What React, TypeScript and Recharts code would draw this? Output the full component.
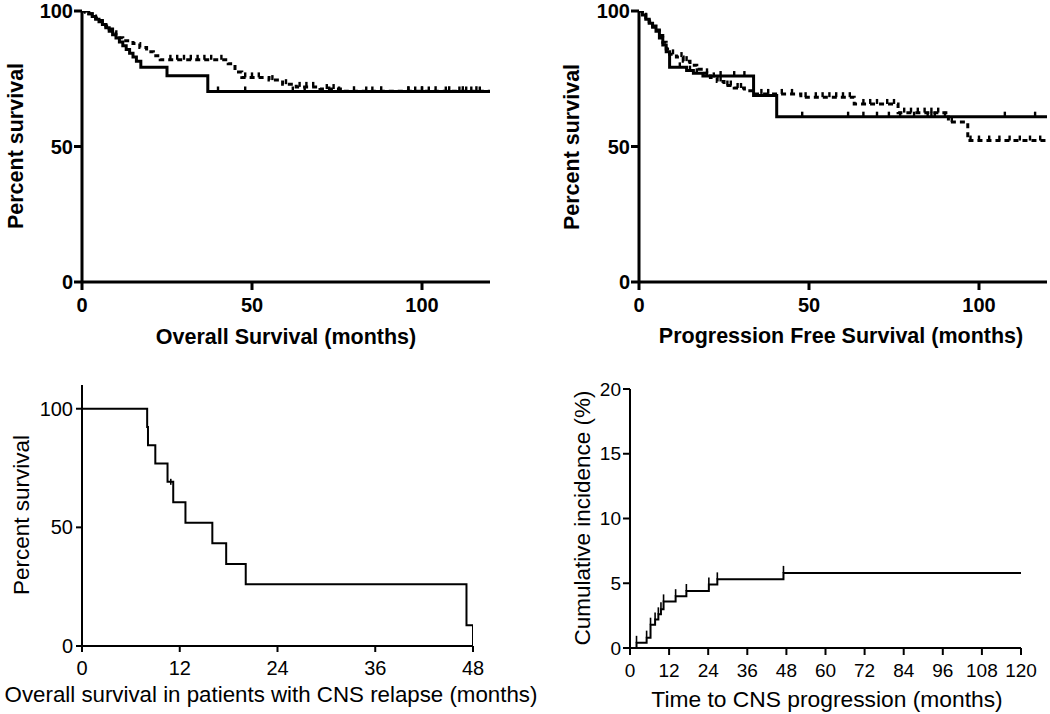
import React from "react";
import { LineChart, Line, XAxis, YAxis } from "recharts";

const FONT = "'Liberation Sans', Arial, Helvetica, sans-serif";

// Overall survival (top left): months at each step, survival after the step, censor times
const osSolidMonths = [0, 2, 3, 4, 5, 6, 7, 8, 9, 10, 11, 12, 13, 14, 15, 16, 17.3, 25, 37];
const osSolidSurv = [100, 99, 98, 97, 96, 95, 93.8, 92.5, 91.2, 90, 88.6, 87.2, 85.8, 84.4, 83, 81.5, 79.2, 76.1, 70.3];
const osSolidCensor = [40, 48, 62, 65.5, 72.7, 75.6, 83.6, 85.4, 96, 98, 100, 102, 107, 111, 113, 114.5, 117];

const osDashMonths = [0, 1, 2, 3, 4, 5, 6, 7, 8, 9, 10, 11, 12, 15, 17, 19, 21, 23, 43, 45, 47, 55, 59, 63, 70, 76];
const osDashSurv = [100, 99.5, 99, 98.2, 97.4, 96.5, 95.5, 94.5, 93.4, 92.3, 91.2, 90.1, 89, 88, 86.5, 85, 83.5, 82, 80.5, 77.5, 75.5, 74.5, 73, 72, 71.2, 70.4];
const osDashCensor = [26, 28, 30, 32, 34, 36, 38, 41, 48, 50, 52, 56, 60, 64, 66, 68, 72, 74, 80, 88, 96, 100, 104, 108, 112, 116];

// Progression free survival (top right)
const pfsSolidMonths = [0, 1, 2, 3, 4, 5, 6, 7, 8, 9, 14, 16, 18.8, 33.7, 40.5];
const pfsSolidSurv = [100, 98.5, 97, 95.5, 94, 92.5, 90, 87.5, 85, 79.2, 78, 77, 76, 68.8, 61];
const pfsSolidCensor = [12, 15, 17, 20, 24, 28, 31, 48, 61.5, 66, 70, 73.5, 76.8, 80.9, 84.9, 86, 87, 90, 107.6, 116.5];

const pfsDashMonths = [0, 1, 2, 3, 4, 5, 6, 7, 8, 9, 11, 13, 15, 17, 19, 21, 23, 25, 28, 31, 34, 47.6, 63.3, 76.2, 91, 96.7];
const pfsDashSurv = [100, 98.8, 97.5, 96, 94.5, 93, 91, 88.5, 86, 84, 83, 81.5, 80, 78.5, 77, 75.5, 74, 72.5, 71.6, 70.6, 69.4, 68.2, 65.7, 62.5, 59, 52.2];
const pfsDashCensor = [10, 12.5, 14, 20, 22, 24, 26, 27, 29, 30, 36, 38, 42, 45, 49, 52, 54, 56, 58, 60, 62, 66, 68, 70, 73, 75, 78, 80, 82, 84, 86, 88, 92, 97.5, 100, 103, 106, 109, 112, 115, 118];

// Overall survival after CNS relapse (bottom left)
const cnsMonths = [0, 8, 8.1, 9, 10.5, 11.2, 12.7, 16, 17.7, 20.1, 47.2, 48];
const cnsSurv = [100, 92.3, 84.6, 76.9, 69.2, 60.6, 51.9, 43.3, 34.6, 26, 8.7, 0];
const cnsCensor = [10.9];

// Cumulative incidence of CNS progression (bottom right)
const cifMonths = [0, 2.0, 5.1, 6.3, 7.7, 8.7, 9.5, 10.3, 14, 17.3, 24.2, 26.8, 47.1];
const cifValues = [0, 0.4, 0.8, 1.8, 2.2, 2.6, 3.0, 3.6, 4.0, 4.4, 4.9, 5.3, 5.8];

type Pt = { t: number; s: number; mark?: boolean };

function buildCurve(times: number[], vals: number[], censors: number[], end: number, markEvents = false): Pt[] {
  const pts: Pt[] = times.map((t, i) => ({ t, s: vals[i], mark: markEvents && i > 0 }));
  const valueAt = (c: number) => {
    let v = vals[0];
    times.forEach((t, i) => {
      if (t <= c) v = vals[i];
    });
    return v;
  };
  censors.forEach((c) => pts.push({ t: c, s: valueAt(c), mark: true }));
  if (end > times[times.length - 1]) pts.push({ t: end, s: vals[vals.length - 1] });
  return pts.sort((a, b) => a.t - b.t);
}

const osSolid = buildCurve(osSolidMonths, osSolidSurv, osSolidCensor, 120);
const osDash = buildCurve(osDashMonths, osDashSurv, osDashCensor, 120);
const pfsSolid = buildCurve(pfsSolidMonths, pfsSolidSurv, pfsSolidCensor, 120);
const pfsDash = buildCurve(pfsDashMonths, pfsDashSurv, pfsDashCensor, 120);
const cns = buildCurve(cnsMonths, cnsSurv, cnsCensor, 48);
const cif = buildCurve(cifMonths, cifValues, [], 120, true);

const tickDot = (up: number, down: number, w: number) => (props: any) => {
  const { cx, cy, payload, index } = props;
  if (!payload || !payload.mark || cx == null || cy == null) return <g key={index} />;
  return <line key={index} x1={cx} x2={cx} y1={cy - up} y2={cy + down} stroke="#000" strokeWidth={w} />;
};

type Series = { data: Pt[]; dash?: string };

type PanelProps = {
  left: number;
  top: number;
  width: number;
  height: number;
  plot: [number, number, number, number]; // x0, x1, yTop, yBottom in page pixels
  xDomain: [number, number];
  xTicks: number[];
  yDomain: [number, number];
  yTicks: number[];
  series: Series[];
  weight: number;
  tickFont: number;
  tickBold: boolean;
  tickLen: number;
  xTickGap: number;
  yTickGap: number;
  markUp: number;
  markDown: number;
};

function Panel(p: PanelProps) {
  const yW = 70;
  const xH = 40;
  const [x0, x1, yt, yb] = p.plot;
  const margin = {
    left: x0 - p.left - yW,
    right: p.left + p.width - x1,
    top: yt - p.top,
    bottom: p.top + p.height - yb - xH,
  };
  const tickStyle = { fill: "#000", fontSize: p.tickFont, fontWeight: p.tickBold ? "bold" : "normal", fontFamily: FONT };
  const axisStyle = { stroke: "#000", strokeWidth: p.weight };
  return (
    <div style={{ position: "absolute", left: p.left, top: p.top }}>
      <LineChart width={p.width} height={p.height} margin={margin} style={{ overflow: "visible" }}>
        <XAxis
          dataKey="t"
          type="number"
          domain={p.xDomain}
          ticks={p.xTicks}
          interval={0}
          allowDataOverflow
          height={xH}
          axisLine={axisStyle}
          tickLine={axisStyle}
          tickSize={p.tickLen}
          tickMargin={p.xTickGap}
          tick={tickStyle}
        />
        <YAxis
          type="number"
          domain={p.yDomain}
          ticks={p.yTicks}
          interval={0}
          allowDataOverflow
          width={yW}
          axisLine={axisStyle}
          tickLine={axisStyle}
          tickSize={p.tickLen}
          tickMargin={p.yTickGap}
          tick={tickStyle}
        />
        {p.series.map((s, i) => (
          <Line
            key={i}
            data={s.data}
            dataKey="s"
            type="stepAfter"
            stroke="#000"
            strokeWidth={p.weight}
            strokeDasharray={s.dash}
            dot={tickDot(p.markUp, p.markDown, p.weight * 0.8)}
            activeDot={false}
            isAnimationActive={false}
          />
        ))}
      </LineChart>
    </div>
  );
}

function Title({ x, y, text, size, bold, vertical }: { x: number; y: number; text: string; size: number; bold?: boolean; vertical?: boolean }) {
  return (
    <div
      style={{
        position: "absolute",
        left: x,
        top: y,
        transform: `translate(-50%, -50%)${vertical ? " rotate(-90deg)" : ""}`,
        whiteSpace: "nowrap",
        fontFamily: FONT,
        fontSize: size,
        fontWeight: bold ? "bold" : "normal",
        color: "#000",
        lineHeight: 1,
      }}
    >
      {text}
    </div>
  );
}

export default function App() {
  return (
    <div style={{ position: "absolute", left: 0, top: 0, width: 1050, height: 714, background: "#fff", overflow: "hidden" }}>
      <Panel
        left={0}
        top={0}
        width={520}
        height={340}
        plot={[82, 490, 11, 282]}
        xDomain={[0, 120]}
        xTicks={[0, 50, 100]}
        yDomain={[0, 100]}
        yTicks={[0, 50, 100]}
        series={[{ data: osSolid }, { data: osDash, dash: "5 4" }]}
        weight={3}
        tickFont={20}
        tickBold
        tickLen={8}
        xTickGap={8}
        yTickGap={1}
        markUp={5}
        markDown={0}
      />
      <Panel
        left={530}
        top={0}
        width={520}
        height={340}
        plot={[639, 1047, 11, 282]}
        xDomain={[0, 120]}
        xTicks={[0, 50, 100]}
        yDomain={[0, 100]}
        yTicks={[0, 50, 100]}
        series={[{ data: pfsSolid }, { data: pfsDash, dash: "5 4" }]}
        weight={3}
        tickFont={20}
        tickBold
        tickLen={8}
        xTickGap={8}
        yTickGap={1}
        markUp={5}
        markDown={0}
      />
      <Panel
        left={0}
        top={370}
        width={520}
        height={344}
        plot={[82, 473, 385, 646]}
        xDomain={[0, 48]}
        xTicks={[0, 12, 24, 36, 48]}
        yDomain={[0, 110]}
        yTicks={[0, 50, 100]}
        series={[{ data: cns }]}
        weight={2}
        tickFont={20}
        tickBold={false}
        tickLen={6}
        xTickGap={9}
        yTickGap={3}
        markUp={3}
        markDown={3}
      />
      <Panel
        left={530}
        top={370}
        width={520}
        height={344}
        plot={[630, 1021, 389, 648]}
        xDomain={[0, 120]}
        xTicks={[0, 12, 24, 36, 48, 60, 72, 84, 96, 108, 120]}
        yDomain={[0, 20]}
        yTicks={[0, 5, 10, 15, 20]}
        series={[{ data: cif }]}
        weight={2}
        tickFont={19}
        tickBold={false}
        tickLen={7}
        xTickGap={9}
        yTickGap={2}
        markUp={7}
        markDown={0}
      />

      <Title x={17} y={146} text="Percent survival" size={21.5} bold vertical />
      <Title x={286} y={338} text="Overall Survival (months)" size={21.5} bold />
      <Title x={573} y={147} text="Percent survival" size={21.5} bold vertical />
      <Title x={841} y={337} text="Progression Free Survival (months)" size={21.5} bold />
      <Title x={22} y={515} text="Percent survival" size={22.5} vertical />
      <Title x={271} y={695} text="Overall survival in patients with CNS relapse (months)" size={22.3} />
      <Title x={583} y={518} text="Cumulative incidence (%)" size={22.5} vertical />
      <Title x={827} y={699} text="Time to CNS progression (months)" size={22.8} />
    </div>
  );
}
